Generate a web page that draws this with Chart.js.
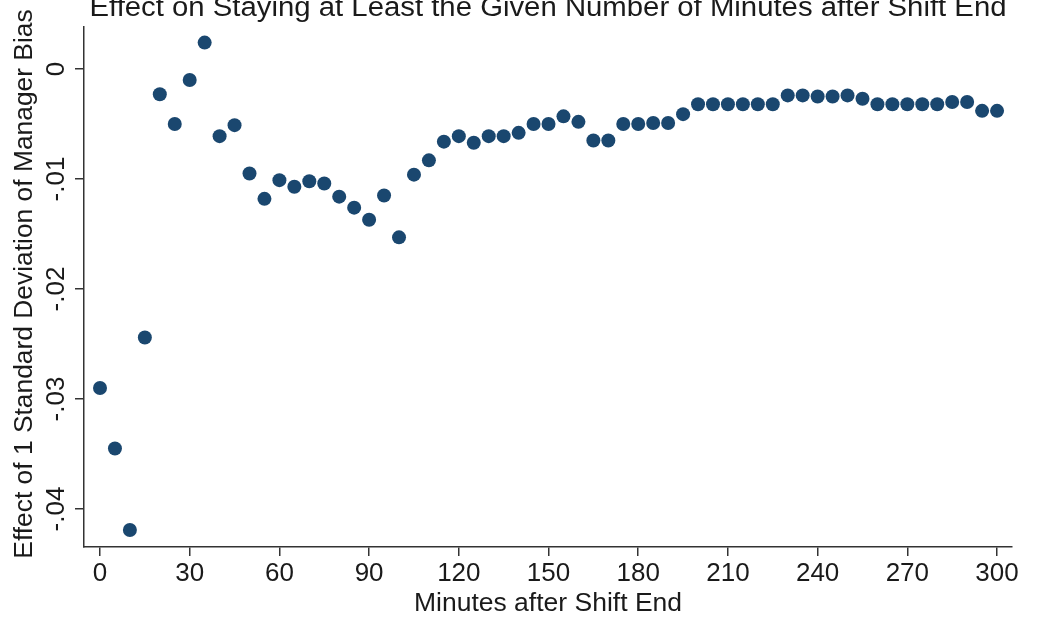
<!DOCTYPE html>
<html>
<head>
<meta charset="utf-8">
<script src="https://cdn.jsdelivr.net/npm/chart.js@4.4.1/dist/chart.umd.min.js"></script>
<style>
    html, body { margin: 0; padding: 0; background: #fff; }
    #wrap { width: 1037px; height: 621px; position: relative; }
</style>
</head>
<body>
<div id="wrap"><canvas id="biasChart"></canvas></div>
<script>
// Data
const minutes = [0, 5, 10, 15, 20, 25, 30, 35, 40, 45, 50, 55, 60, 65, 70, 75, 80, 85, 90, 95,
    100, 105, 110, 115, 120, 125, 130, 135, 140, 145, 150, 155, 160, 165, 170, 175, 180, 185, 190, 195,
    200, 205, 210, 215, 220, 225, 230, 235, 240, 245, 250, 255, 260, 265, 270, 275, 280, 285, 290, 295, 300];
const effects = [-0.0290, -0.0345, -0.0419, -0.0244, -0.0023, -0.0050, -0.0010, 0.0024, -0.0061, -0.0051,
    -0.0095, -0.0118, -0.0101, -0.0107, -0.0102, -0.0104, -0.0116, -0.0126, -0.0137, -0.0115,
    -0.0153, -0.0096, -0.0083, -0.0066, -0.0061, -0.0067, -0.0061, -0.0061, -0.0058, -0.0050,
    -0.0050, -0.0043, -0.0048, -0.0065, -0.0065, -0.0050, -0.0050, -0.0049, -0.0049, -0.0041,
    -0.0032, -0.0032, -0.0032, -0.0032, -0.0032, -0.0032, -0.0024, -0.0024, -0.0025, -0.0025,
    -0.0024, -0.0027, -0.0032, -0.0032, -0.0032, -0.0032, -0.0032, -0.0030, -0.0030, -0.0038, -0.0038];
const xTicks = [0, 30, 60, 90, 120, 150, 180, 210, 240, 270, 300];
const yTicks = [0, -0.01, -0.02, -0.03, -0.04];
const yTickLabels = ['0', '-.01', '-.02', '-.03', '-.04'];

const titleText = 'Effect on Staying at Least the Given Number of Minutes after Shift End';
const xTitle = 'Minutes after Shift End';
const yTitle = 'Effect of 1 Standard Deviation of Manager Bias';

const FONT = '"Liberation Sans", Arial, Helvetica, sans-serif';
const INK = '#1a1a1a';
const AXIS = '#333';
const MARKER = '#1a476f';

// text a bit wider than Liberation Sans, like the Stata export
function drawText(ctx, text, x, y, size, stretch, angle) {
    ctx.save();
    ctx.font = size + 'px ' + FONT;
    ctx.translate(x, y);
    ctx.rotate(angle || 0);
    ctx.scale(stretch, 1);
    ctx.fillText(text, 0, 0);
    ctx.restore();
}

// Stata style: rotated y labels, titles, and a chart title clipped at the top
const stataText = {
    id: 'stataText',
    afterDraw(chart) {
        const ctx = chart.ctx;
        const y = chart.scales.y;
        const area = chart.chartArea;
        ctx.save();
        ctx.fillStyle = INK;
        ctx.textAlign = 'center';
        ctx.textBaseline = 'middle';

        yTicks.forEach((v, i) => {
            drawText(ctx, yTickLabels[i], 57, y.getPixelForValue(v), 26, 1, -Math.PI / 2);
        });

        drawText(ctx, yTitle, 25, (area.top + area.bottom) / 2 - 3, 25, 1.055, -Math.PI / 2);

        ctx.textBaseline = 'alphabetic';
        drawText(ctx, xTitle, (area.left + area.right) / 2, 611, 25, 1.06, 0);
        drawText(ctx, titleText, (area.left + area.right) / 2, 16, 27, 1.086, 0);
        ctx.restore();
    }
};

document.addEventListener('DOMContentLoaded', () => {
    const ctx = document.getElementById('biasChart').getContext('2d');

    new Chart(ctx, {
        type: 'scatter',
        data: {
            datasets: [{
                data: minutes.map((m, i) => ({ x: m, y: effects[i] })),
                backgroundColor: MARKER,
                borderColor: MARKER,
                borderWidth: 0,
                pointRadius: 7,
                pointHoverRadius: 7
            }]
        },
        options: {
            responsive: true,
            maintainAspectRatio: false,
            animation: false,
            layout: { padding: { top: 27, right: 25, left: 0, bottom: 0 } },
            plugins: {
                legend: { display: false },
                tooltip: { enabled: false }
            },
            scales: {
                x: {
                    type: 'linear',
                    min: -5.35,
                    max: 305,
                    afterBuildTicks: (scale) => { scale.ticks = xTicks.map(v => ({ value: v })); },
                    afterFit: (scale) => { scale.height = 74; },
                    border: { display: true, color: AXIS, width: 1.5 },
                    grid: { display: true, drawOnChartArea: false, drawTicks: true, tickLength: 9, color: AXIS, lineWidth: 1.5 },
                    ticks: {
                        color: INK,
                        font: { family: FONT, size: 26 },
                        padding: 2,
                        maxRotation: 0,
                        autoSkip: false,
                        callback: (v) => String(v)
                    }
                },
                y: {
                    type: 'linear',
                    min: -0.04345,
                    max: 0.00382,
                    afterBuildTicks: (scale) => { scale.ticks = yTicks.map(v => ({ value: v })); },
                    afterFit: (scale) => { scale.width = 84; },
                    border: { display: true, color: AXIS, width: 1.5 },
                    grid: { display: true, drawOnChartArea: false, drawTicks: true, tickLength: 9, color: AXIS, lineWidth: 1.5 },
                    ticks: { display: false }
                }
            }
        },
        plugins: [stataText]
    });
});
</script>
</body>
</html>
